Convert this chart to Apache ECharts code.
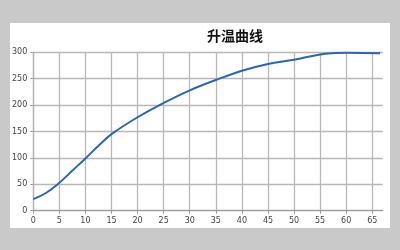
<!DOCTYPE html>
<html><head><meta charset="utf-8">
<script src="https://cdn.jsdelivr.net/npm/echarts@6/dist/echarts.min.js"></script>
<style>html,body{margin:0;padding:0;background:#c9c9c9;}
#panel{position:absolute;left:10px;top:23px;width:380px;height:205px;background:#fff;}
#c{position:absolute;left:0;top:0;width:400px;height:250px;}</style>
</head><body><div id="panel"></div><div id="c"></div>
<script>
const title = '升温曲线';
const timeMin = [0, 2.5, 5, 7.5, 10, 12.5, 15, 20, 25, 30, 35, 40, 45, 50, 55, 58, 60, 66.5];
const temperature = [22, 34, 53, 76, 99, 123, 145, 177, 204, 228, 247.5, 265, 278, 286, 296, 298.5, 299, 298];
const xTicks = [0,5,10,15,20,25,30,35,40,45,50,55,60,65];
const yTicks = [0,50,100,150,200,250,300];

const chart = echarts.init(document.getElementById('c'), null, {renderer:'canvas'});
chart.setOption({
  backgroundColor: 'transparent',
  animation: false,
  title: {text: title, left: 230, top: 24, textAlign: 'center',
    textStyle: {fontFamily: '"Noto Sans CJK SC"', fontWeight: 'bold', fontSize: 14, color: '#111'}},
  grid: {left: 33.3, right: 17.3, top: 52.3, bottom: 39.3, containLabel: false},
  xAxis: {type: 'value', min: 0, max: 67, interval: 5,
    axisLine: {show: true, onZero: false, lineStyle: {color: '#999', width: 1}},
    axisTick: {show: true, length: 3, lineStyle: {color: '#999'}},
    axisLabel: {color: '#444', fontSize: 8, margin: 6, fontFamily: 'DejaVu Sans', showMaxLabel: false,
      formatter: v => xTicks.includes(v) ? String(v) : ''},
    splitLine: {show: true, showMaxLine: false, lineStyle: {color: '#b8b8b8', width: 1.3}}},
  yAxis: {type: 'value', min: 0, max: 300, interval: 50,
    axisLine: {show: true, lineStyle: {color: '#b4b4b4', width: 1.3}},
    axisTick: {show: true, length: 3, lineStyle: {color: '#999'}},
    axisLabel: {color: '#444', fontSize: 8, margin: 6, fontFamily: 'DejaVu Sans',
      formatter: v => yTicks.includes(v) ? String(v) : ''},
    splitLine: {show: true, lineStyle: {color: '#b8b8b8', width: 1.3}}},
  series: [{type: 'line', data: timeMin.map((t,i)=>[t, temperature[i]]), smooth: 0.4,
    symbol: 'none', lineStyle: {color: '#2e66ae', width: 2}}]
});
</script></body></html>
